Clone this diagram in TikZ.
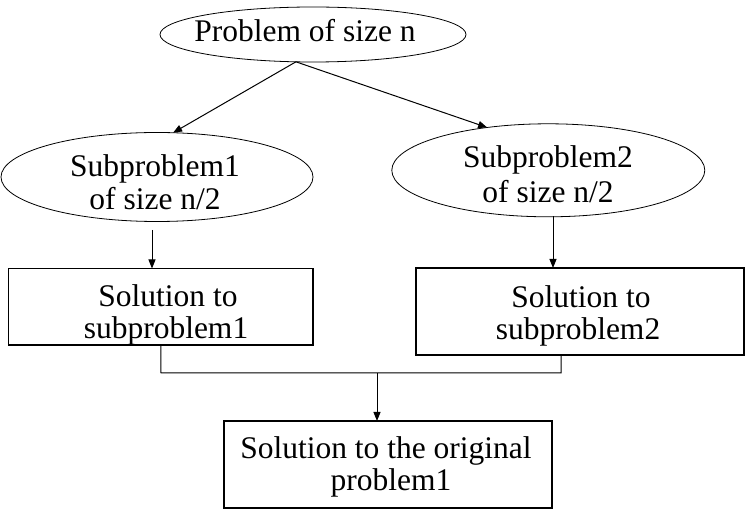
\documentclass[tikz,border=0pt]{standalone}
\usepackage{fontspec}
\setmainfont{Liberation Serif}
\usetikzlibrary{shapes.geometric,arrows.meta}
\begin{document}
\begin{tikzpicture}[x=1pt,y=-1pt,
  oval/.style={draw,ellipse,line width=0.8pt,inner sep=0pt,outer sep=0pt},
  boxshape/.style={draw,rectangle,line width=1.1pt,inner sep=0pt,outer sep=0pt},
  lbl/.style={anchor=base,inner sep=0pt,font=\fontsize{31.5}{33}\selectfont},
  conn/.style={line width=1pt},
  arr/.style={line width=1pt,-{Triangle[length=9pt,width=7pt]}}]
\useasboundingbox (0,0) rectangle (745,521);
% ellipses
\node[oval,minimum width=306pt,minimum height=55pt] (E0) at (313,34.5) {};
\node[oval,minimum width=312pt,minimum height=89pt] (E1) at (157,177) {};
\node[oval,minimum width=313pt,minimum height=93pt] (E2) at (548.3,170.3) {};
% boxes
\node[boxshape,minimum width=304.5pt,minimum height=76.5pt] (B1) at (160.75,306.75) {};
\node[boxshape,minimum width=328pt,minimum height=87pt] (B2) at (580,311.5) {};
\node[boxshape,minimum width=328pt,minimum height=87pt] (B3) at (388,464.5) {};
% texts
\node[lbl] (T0) at (305,42) {Problem of size n};
\node[lbl] (T1a) at (155,177) {Subproblem1};
\node[lbl] (T1b) at (155,210) {of size n/2};
\node[lbl] (T2a) at (548,168) {Subproblem2};
\node[lbl] (T2b) at (548,203) {of size n/2};
\node[lbl] (TB1a) at (168,307) {Solution to};
\node[lbl] (TB1b) at (166,339) {subproblem1};
\node[lbl] (TB2a) at (581,308) {Solution to};
\node[lbl] (TB2b) at (578,340) {subproblem2};
\node[lbl] (TB3a) at (386,458) {Solution to the original};
\node[lbl] (TB3b) at (391,490) {problem1};
% connectors
\draw[arr] (E0.238) -- (E1.70);
\draw[arr] (E0.238) -- (E2.145);
\coordinate (c1) at (152,230);
\coordinate (c2) at (553,216.5);
\draw[arr] (c1) -- (c1 |- B1.north);
\draw[arr] (c2) -- (c2 |- B2.north);
\coordinate (j1) at (161,373);
\coordinate (j2) at (561,373);
\coordinate (j3) at (377,373);
\draw[conn] (B1.south) -- (j1) -- (j2) -- (j2 |- B2.south);
\draw[arr] (j3) -- (j3 |- B3.north);
\end{tikzpicture}
\end{document}
